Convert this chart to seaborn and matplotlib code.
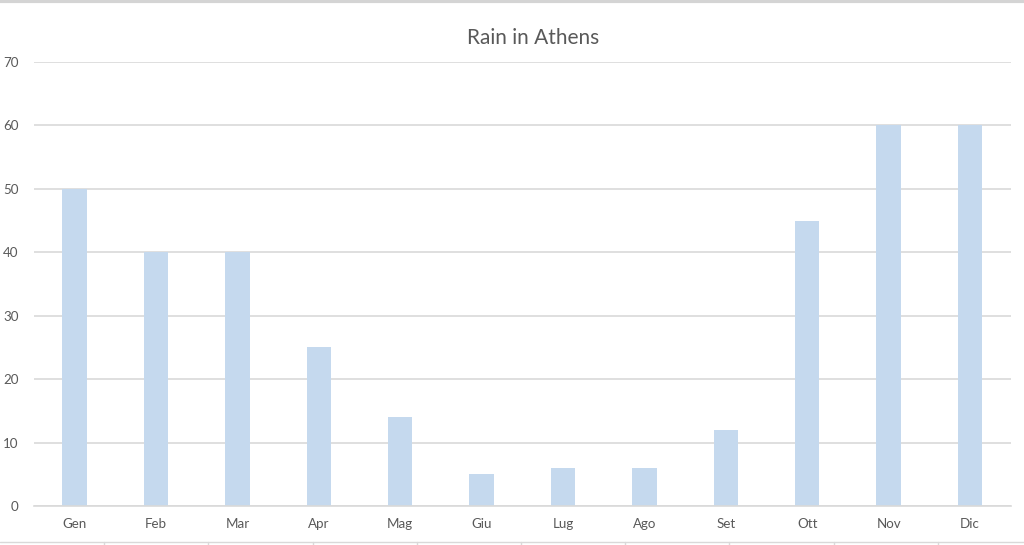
import matplotlib
matplotlib.use("Agg")
import matplotlib.pyplot as plt
from matplotlib.lines import Line2D
import seaborn as sns
import pandas as pd

months = ["Gen", "Feb", "Mar", "Apr", "Mag", "Giu", "Lug", "Ago", "Set", "Ott", "Nov", "Dic"]
rain = [50, 40, 40, 25, 14, 5, 6, 6, 12, 45, 60, 60]
yticks = [0, 10, 20, 30, 40, 50, 60, 70]

sns.set_theme(style="white")
plt.rcParams['font.family'] = ['Lato', 'DejaVu Sans']

df = pd.DataFrame({"month": months, "rain": rain})

fig = plt.figure(figsize=(10.24, 5.45), dpi=100)
ax = fig.add_axes([0.0332, 0.0716, 0.9538, 0.8147])

sns.barplot(data=df, x="month", y="rain", color="#C5D9EE", saturation=1,
            width=0.3, ax=ax, edgecolor="none")

ax.set_ylim(0, 70)
ax.set_yticks(yticks)
ax.set_xlim(-0.5, len(months) - 0.5)
ax.yaxis.grid(True, color="#D9D9D9", linewidth=1.2)
ax.set_axisbelow(True)
for s in ["top", "right", "left"]:
    ax.spines[s].set_visible(False)
ax.spines["bottom"].set_color("#D9D9D9")
ax.spines["bottom"].set_linewidth(1.2)
ax.tick_params(axis="both", length=0, labelsize=9.6, colors="#595959")
ax.tick_params(axis="y", pad=11)
ax.tick_params(axis="x", pad=9)
ax.set_xlabel("")
ax.set_ylabel("")
t = ax.set_title("Rain in Athens", fontsize=15, color="#595959", pad=13)
t.set_x(0.511)

# screenshot frame decorations
fig.add_artist(Line2D([0, 1], [0.9975, 0.9975], transform=fig.transFigure,
                      color="#D4D4D4", linewidth=3))
fig.add_artist(Line2D([0, 1], [0.0055, 0.0055], transform=fig.transFigure,
                      color="#D9D9D9", linewidth=1))
for i in range(1, 10):
    x = i * 104.2 / 1024
    fig.add_artist(Line2D([x, x], [0, 0.0055], transform=fig.transFigure,
                          color="#D9D9D9", linewidth=1))

fig.savefig("out.png", dpi=100, facecolor="white")
